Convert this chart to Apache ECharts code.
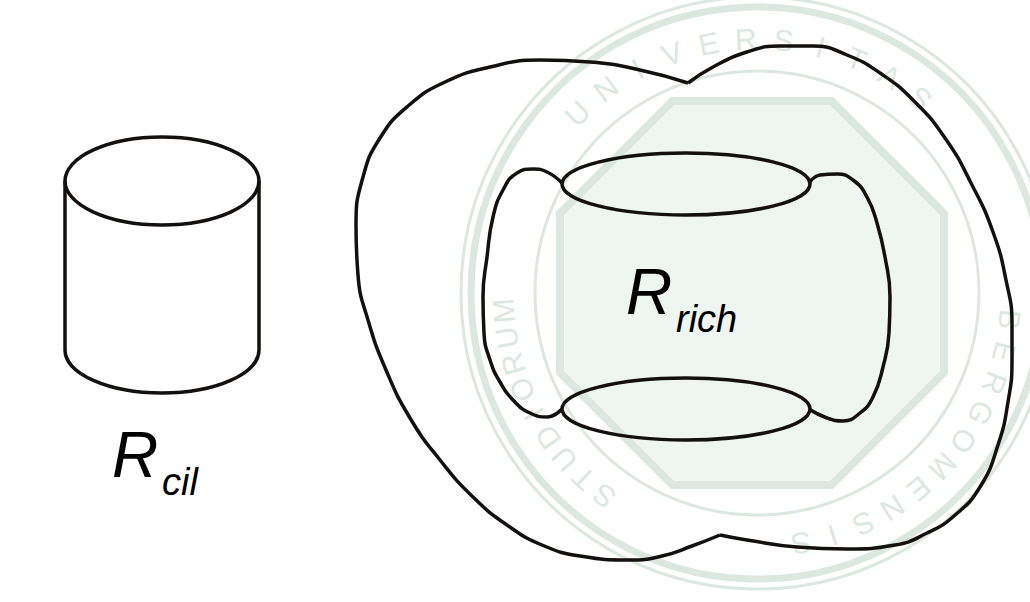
<!DOCTYPE html>
<html>
<head>
<meta charset="utf-8">
<title>R_cil / R_rich</title>
<style>
  html, body { margin: 0; padding: 0; background: #fff; }
  #chart { width: 1030px; height: 602px; }
</style>
<script src="https://cdn.jsdelivr.net/npm/echarts@6/dist/echarts.min.js"></script>
</head>
<body>
<div id="chart"></div>
<script>
// All shapes are given in page units (x right, y down), mapped through hidden value axes.

// outer blob: two lobes meeting at the top and bottom notches
const outerLeft = [[688,83],[640,70],[590,62],[540,60],[490,67],[445,82],[408,106],[380,138],[363,177],[356,225],[358,275],[368,320],[386,370],[410,418],[440,460],[473,497],[507,525],[542,545],[580,556],[630,560],[662,556],[692,546],[720,535]];
const outerRight = [[688,83],[713,67],[747,52],[780,46],[813,46],[847,55],[880,73],[913,100],[945,138],[972,185],[993,232],[1006,280],[1012,325],[1012,360],[1008,402],[998,445],[980,487],[954,516],[927,533],[895,545],[847,549],[797,547],[747,540],[720,535]];

// inner side lobes joining the two rings
const innerLeft = [[562,183],[547,172],[533,169],[517,173],[503,190],[493,217],[487,257],[483,297],[484,333],[490,360],[500,382],[514,401],[530,413],[547,417],[562,409]];
const innerRight = [[809,183],[820,175],[837,174],[853,180],[867,197],[877,223],[885,257],[890,297],[889,333],[883,367],[873,397],[860,413],[843,421],[827,418],[809,409]];

// ellipses: cylinder top, cylinder base (lower half only), ring top, ring bottom
const ellipseCx = [162, 162, 686, 686];
const ellipseCy = [181, 350, 184, 409];
const ellipseRx = [97, 97, 124, 124];
const ellipseRy = [44, 43, 31, 31];
const ellipseHalf = [0, 1, 0, 0];

// cylinder walls: x, y top, y bottom
const cylWallX = [65, 259];
const cylWallTop = [181, 181];
const cylWallBottom = [350, 350];

// labels
const labelMain = ['R', 'R'];
const labelSub = ['cil', 'rich'];
const labelX = [112, 626];
const labelY = [455, 292];

// faint university seal in the background
const sealCenter = [757, 293];
const sealRings = [222, 286, 296];
const sealWords = ['UNIVERSITAS', 'BERGOMENSIS', 'STUDIORUM'];
const sealWordFrom = [-135, 6, 127];
const sealWordTo = [-50, 80, 176];
const sealTextRadius = 254;
const sealOctagonApothem = 192;

const chart = echarts.init(document.getElementById('chart'), null, { renderer: 'svg' });

const INK = '#141010';
const SEAL = '#dce8df';
const toRad = d => d * Math.PI / 180;

function sealItem(params, api) {
    const c = api.coord([api.value(0), api.value(1)]);
    const children = [];
    // octagon plate
    const R = sealOctagonApothem / Math.cos(toRad(22.5));
    const pts = [];
    for (let k = 0; k < 8; k++) {
        const a = toRad(22.5 + k * 45);
        pts.push([c[0] - 5 + R * Math.cos(a), c[1] + R * Math.sin(a)]);
    }
    children.push({ type: 'polygon', shape: { points: pts }, style: { fill: '#eff5f0', stroke: SEAL, lineWidth: 8 } });
    sealRings.forEach((r, i) => {
        children.push({ type: 'circle', shape: { cx: c[0], cy: c[1], r: r },
            style: { fill: 'none', stroke: SEAL, lineWidth: i === 1 ? 7 : 3 } });
    });
    sealWords.forEach((w, i) => {
        const n = w.length;
        for (let j = 0; j < n; j++) {
            const ang = sealWordFrom[i] + (sealWordTo[i] - sealWordFrom[i]) * j / (n - 1);
            const a = toRad(ang);
            children.push({
                type: 'text',
                x: c[0] + sealTextRadius * Math.cos(a),
                y: c[1] + sealTextRadius * Math.sin(a),
                rotation: -toRad(ang + 90),
                style: { text: w[j], fill: SEAL, font: '30px "Liberation Sans", Arial, sans-serif',
                    align: 'center', verticalAlign: 'middle', textAlign: 'center', textVerticalAlign: 'middle' }
            });
        }
    });
    return { type: 'group', children: children, silent: true };
}

function ellipseItem(params, api) {
    const c = api.coord([api.value(0), api.value(1)]);
    const s = api.size([api.value(2), api.value(3)]);
    const rx = s[0], ry = s[1];
    const l = c[0] - rx, r = c[0] + rx, y = c[1];
    const d = api.value(4) === 1
        ? `M${l} ${y} A${rx} ${ry} 0 0 0 ${r} ${y}`
        : `M${l} ${y} A${rx} ${ry} 0 1 1 ${r} ${y} A${rx} ${ry} 0 1 1 ${l} ${y} Z`;
    return { type: 'path', shape: { pathData: d }, style: { fill: 'none', stroke: INK, lineWidth: 3.5 } };
}

function wallItem(params, api) {
    const a = api.coord([api.value(0), api.value(1)]);
    const b = api.coord([api.value(0), api.value(2)]);
    return { type: 'line', shape: { x1: a[0], y1: a[1], x2: b[0], y2: b[1] }, style: { stroke: INK, lineWidth: 3.5 } };
}

function labelItem(params, api) {
    const p = api.coord([api.value(0), api.value(1)]);
    const i = params.dataIndex;
    const font = size => `italic ${size}px "Liberation Sans", Arial, sans-serif`;
    return {
        type: 'group',
        children: [
            { type: 'text', x: p[0], y: p[1],
              style: { text: labelMain[i], font: font(64), fill: '#000',
                       align: 'left', verticalAlign: 'middle', textAlign: 'left', textVerticalAlign: 'middle' } },
            { type: 'text', x: p[0] + 50, y: p[1] + 27,
              style: { text: labelSub[i], font: font(38), fill: '#000',
                       align: 'left', verticalAlign: 'middle', textAlign: 'left', textVerticalAlign: 'middle' } }
        ]
    };
}

const lobe = data => ({
    type: 'line', data: data, smooth: 0.5, showSymbol: false, symbol: 'none', clip: false,
    lineStyle: { color: INK, width: 3.5 }, silent: true, z: 3
});

chart.setOption({
    backgroundColor: '#fff',
    animation: false,
    grid: { left: 0, right: 0, top: 0, bottom: 0 },
    xAxis: { type: 'value', min: 0, max: 1030, show: false },
    yAxis: { type: 'value', min: 0, max: 602, inverse: true, show: false },
    series: [
        { type: 'custom', renderItem: sealItem, data: [sealCenter], silent: true, z: 1, clip: false },
        lobe(outerLeft),
        lobe(outerRight),
        lobe(innerLeft),
        lobe(innerRight),
        {
            type: 'custom', renderItem: ellipseItem, silent: true, z: 4, clip: false,
            data: ellipseCx.map((x, i) => [x, ellipseCy[i], ellipseRx[i], ellipseRy[i], ellipseHalf[i]])
        },
        {
            type: 'custom', renderItem: wallItem, silent: true, z: 4, clip: false,
            data: cylWallX.map((x, i) => [x, cylWallTop[i], cylWallBottom[i]])
        },
        {
            type: 'custom', renderItem: labelItem, silent: true, z: 5, clip: false,
            data: labelX.map((x, i) => [x, labelY[i]])
        }
    ]
});
</script>
</body>
</html>
